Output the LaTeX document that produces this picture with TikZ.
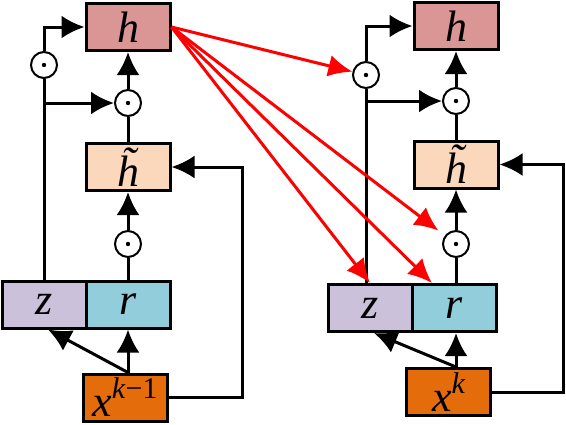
\documentclass[tikz,border=0pt]{standalone}
\usepackage{fontspec}
\setmainfont{Liberation Serif}
\usepackage{tikz}
\tikzset{x=.5pt,y=-.5pt}
\usetikzlibrary{arrows.meta}
\definecolor{hcol}{HTML}{D99694}
\definecolor{htcol}{HTML}{FBD7BB}
\definecolor{zcol}{HTML}{CCC1DA}
\definecolor{rcol}{HTML}{92CDDC}
\definecolor{xcol}{HTML}{E46C0A}
\def\xsup#1{x\raisebox{9pt}{\fontsize{15}{15}\selectfont #1}}
\tikzset{
  cellbox/.style={draw,line width=1.5pt,minimum width=42pt,minimum height=23.5pt,
    inner sep=0pt,font=\fontsize{22}{26}\selectfont\itshape},
  gate/.style={circle,draw,line width=1pt,minimum size=13pt,inner sep=0pt,
    path picture={\fill (path picture bounding box.center) circle (1.1pt);}},
  flow/.style={line width=1.5pt,-{Latex[length=11.5pt,width=11.5pt]}},
  link/.style={line width=1.5pt},
  skip/.style={red,line width=1.5pt,-{Latex[length=12pt,width=11pt]}}
}

\begin{document}
\begin{tikzpicture}
\useasboundingbox (0,0) rectangle (566,424);
    % left cell
    \node[cellbox,fill=hcol]  (hL)  at (128,27)    {h};
    \node[gate]               (gtL) at (44,65)     {};
    \node[gate]               (gmL) at (128,103)   {};
    \node[cellbox,fill=htcol] (htL) at (128,167)   {\~{h}};
    \node[gate]               (glL) at (128,244)   {};
    \node[cellbox,fill=zcol]  (zL)  at (44,304.5)  {z};
    \node[cellbox,fill=rcol]  (rL)  at (128,304.5) {r};
    \node[cellbox,fill=xcol]  (xL)  at (125,397.5) {\xsup{k\textup{−1}}};
    \coordinate (fbL) at (242,167);
    % right cell
    \node[cellbox,fill=hcol]  (hR)  at (456,26)    {h};
    \node[gate]               (gtR) at (366,75)    {};
    \node[gate]               (gmR) at (456,101)   {};
    \node[cellbox,fill=htcol] (htR) at (456,164.5) {\~{h}};
    \node[gate]               (glR) at (456,244)   {};
    \node[cellbox,fill=zcol]  (zR)  at (370,308)   {z};
    \node[cellbox,fill=rcol]  (rR)  at (454,308)   {r};
    \node[cellbox,fill=xcol]  (xR)  at (448.5,392) {\xsup{k}};
    \coordinate (fbR) at (563,164.5);
    % gates and inputs
    \foreach \c in {L,R} {
      \draw[link] (z\c.north -| gt\c) -- (gt\c);
      \draw[flow] (gt\c) |- (h\c);
      \draw[flow] (gt\c |- gm\c) -- (gm\c);
      \draw[flow] (gm\c) -- (h\c);
      \draw[link] (ht\c) -- (gm\c);
      \draw[flow] (gl\c) -- (ht\c);
      \draw[link] (gl\c |- r\c.north) -- (gl\c);
      \draw[flow] (gl\c |- x\c.north) -- (gl\c |- r\c.south);
      \draw[flow] (gl\c |- x\c.north) -- ([xshift=2pt]z\c.south);
      \draw[flow] (x\c.east) -| (fb\c) |- (ht\c.east);
    }
    % links to the next cell
    \draw[skip] (hL.east) -- (gtR);
    \draw[skip,shorten >=4pt] (hL.east) -- (glR);
    \draw[skip] (hL.east) -- (zR.north);
    \draw[skip] (hL.east) -- ([xshift=-11pt]rR.north);
\end{tikzpicture}
\end{document}
